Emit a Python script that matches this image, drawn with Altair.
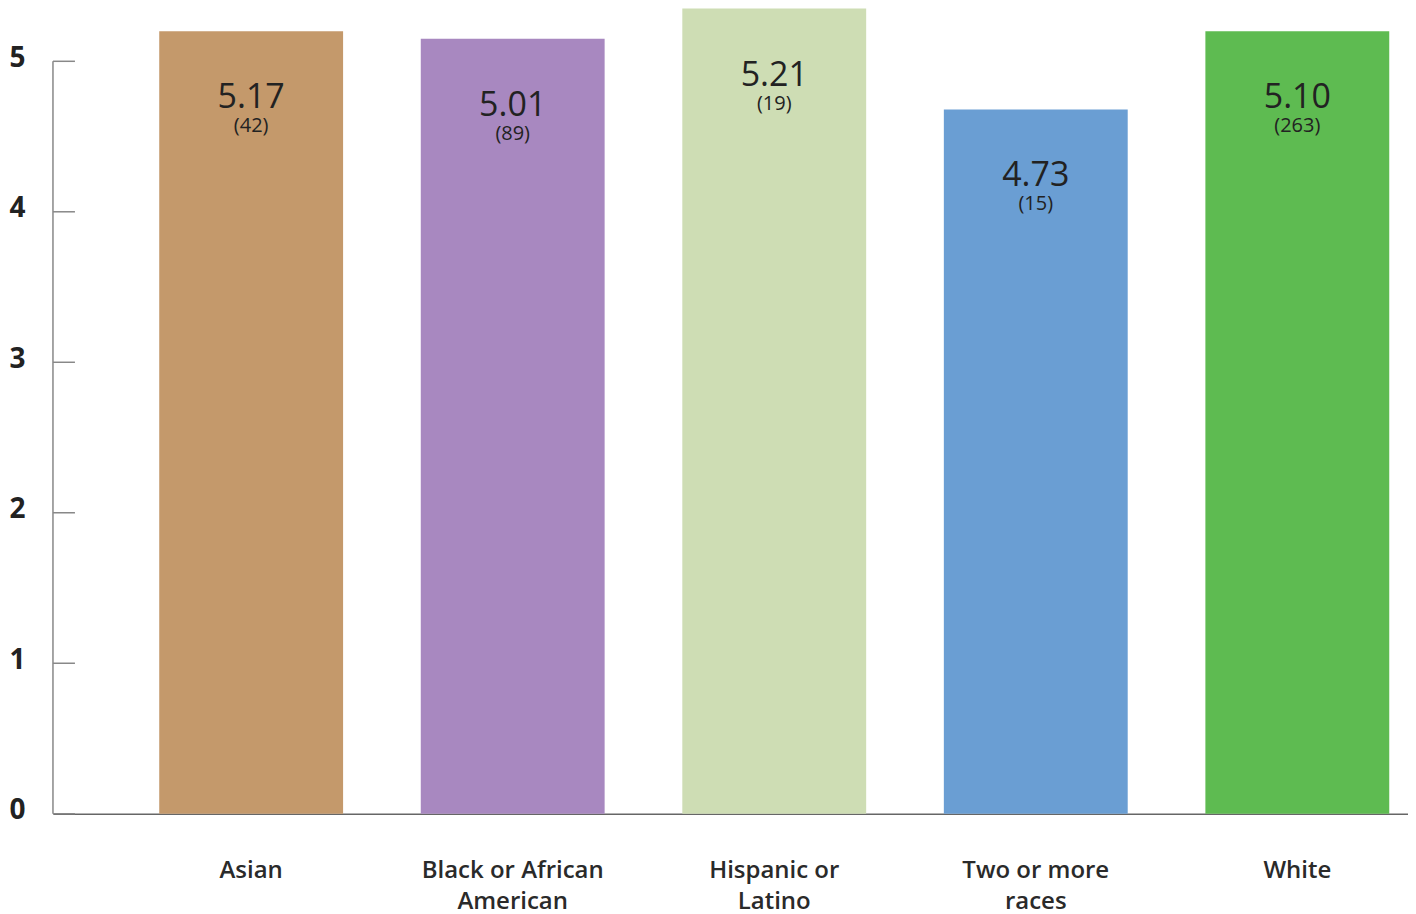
import altair as alt
import pandas as pd

groups = ["Asian", "Black or African American", "Hispanic or Latino", "Two or more races", "White"]
label_lines = [["Asian"], ["Black or African", "American"], ["Hispanic or", "Latino"], ["Two or more", "races"], ["White"]]
means = [5.17, 5.01, 5.21, 4.73, 5.10]
counts = [42, 89, 19, 15, 263]
bar_heights = [5.20, 5.15, 5.35, 4.68, 5.20]
colors = ["#C4996B", "#A888C0", "#CEDDB4", "#6A9ED3", "#5EBB51"]
y_ticks = [0, 1, 2, 3, 4, 5]

df = pd.DataFrame({
    "group": groups,
    "mean": means,
    "height": bar_heights,
    "mean_label": [f"{m:.2f}" for m in means],
    "count_label": [f"({c})" for c in counts],
})
ticks_df = pd.DataFrame({"v": y_ticks})
axis_df = pd.DataFrame({"y0": [min(y_ticks)], "y1": [max(y_ticks)]})

# multi-line label expression
expr = "datum.value"
for g, lines in reversed(list(zip(groups, label_lines))):
    arr = "[" + ",".join(f"'{l}'" for l in lines) + "]"
    expr = f"datum.value == '{g}' ? {arr} : ({expr})"

FONT = "Open Sans"
ymax = 5.352

x_axis = alt.Axis(
    title=None, ticks=False, labelAngle=0, domainColor="#666", domainWidth=1.5,
    labelFont=FONT, labelFontSize=24, labelFontWeight=600, labelColor="#2a2a2a",
    labelPadding=45, labelLineHeight=31, labelExpr=expr, grid=False, labelLimit=0,
)
x_scale = alt.Scale(paddingInner=0.297, paddingOuter=0.239, align=0.85)
y_scale = alt.Scale(domain=[0, ymax], nice=False)
y_axis = alt.Axis(
    title=None, values=y_ticks, domain=False, ticks=False, grid=False,
    labelFont=FONT, labelFontSize=28, labelFontWeight="bold", labelColor="#222",
    labelPadding=28, labelOffset=-3,
)

def X():
    return alt.X("group:N", sort=groups, scale=x_scale, axis=x_axis)

bars = alt.Chart(df).mark_bar().encode(
    x=X(),
    y=alt.Y("height:Q", scale=y_scale, axis=y_axis),
    color=alt.Color("group:N", scale=alt.Scale(domain=groups, range=colors), legend=None),
)

val_text = alt.Chart(df).mark_text(
    font=FONT, fontSize=34, fontWeight=500, color="#222", baseline="middle", dy=67
).encode(
    x=X(),
    y=alt.Y("height:Q", scale=y_scale, axis=y_axis),
    text="mean_label:N",
)
cnt_text = alt.Chart(df).mark_text(
    font=FONT, fontSize=20, fontWeight=500, color="#222", baseline="middle", dy=95
).encode(
    x=X(),
    y=alt.Y("height:Q", scale=y_scale, axis=y_axis),
    text="count_label:N",
)

tick_rules = alt.Chart(ticks_df).mark_rule(color="#888", strokeWidth=1.5).encode(
    y=alt.Y("v:Q", scale=y_scale, axis=y_axis),
    x=alt.value(0), x2=alt.value(22),
)
y_line = alt.Chart(axis_df).mark_rule(color="#888", strokeWidth=1.5).encode(
    y=alt.Y("y0:Q", scale=y_scale, axis=y_axis),
    y2="y1:Q",
    x=alt.value(0),
)

chart = alt.layer(bars, val_text, cnt_text, tick_rules, y_line).properties(
    width=1356, height=806, padding=0
).configure_view(stroke=None)

chart.save("out.html", embed_options={"renderer": "svg", "actions": False})
